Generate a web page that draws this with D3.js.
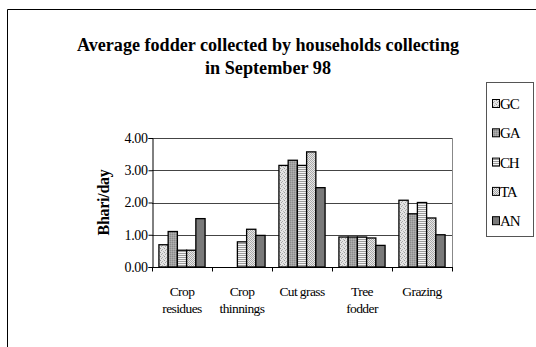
<!DOCTYPE html>
<html>
<head>
<meta charset="utf-8">
<script src="https://cdn.jsdelivr.net/npm/d3@7"></script>
<style>
  html, body { margin: 0; padding: 0; background: #fff; }
  svg { display: block; }
</style>
</head>
<body>
<script>
// Fodder categories (two-line axis labels)
const categories = ["Crop residues", "Crop thinnings", "Cut grass", "Tree fodder", "Grazing"];
const categoryLines = [["Crop", "residues"], ["Crop", "thinnings"], ["Cut grass"], ["Tree", "fodder"], ["Grazing"]];
const seriesNames = ["GC", "GA", "CH", "TA", "AN"];
// Average bhari/day per series, one value per category
const GC = [0.69, 0, 3.15, 0.93, 2.07];
const GA = [1.10, 0, 3.31, 0.93, 1.65];
const CH = [0.52, 0.78, 3.15, 0.93, 2.00];
const TA = [0.52, 1.17, 3.57, 0.90, 1.52];
const AN = [1.50, 0.98, 2.46, 0.67, 1.00];
const seriesValues = [GC, GA, CH, TA, AN];
const yTicks = [0, 1, 2, 3, 4];
const titleLines = ["Average fodder collected by households collecting", "in September 98"];
const yTitle = "Bhari/day";

const SERIF = "'Liberation Serif', 'Times New Roman', Tinos, 'DejaVu Serif', serif";
const W = 536, H = 347;
const svg = d3.select("body").append("svg").attr("width", W).attr("height", H)
  .style("font-family", SERIF);

// fill patterns for the five series
const defs = svg.append("defs");
function pattern(id, size, base, draw) {
  const p = defs.append("pattern").attr("id", id).attr("patternUnits", "userSpaceOnUse")
    .attr("width", size).attr("height", size);
  p.append("rect").attr("width", size).attr("height", size).attr("fill", base);
  draw(p);
}
function dot(p, x, yy, c) {
  p.append("rect").attr("x", x).attr("y", yy).attr("width", 1).attr("height", 1).attr("fill", c);
}
pattern("pGC", 4, "#e4e4e4", p => {
  dot(p, 0, 0, "#9a9a9a"); dot(p, 2, 1, "#b0b0b0"); dot(p, 1, 2, "#a5a5a5"); dot(p, 3, 3, "#b8b8b8");
});
pattern("pGA", 2, "#a0a0a0", p => { dot(p, 0, 0, "#8a8a8a"); dot(p, 1, 1, "#b2b2b2"); });
pattern("pCH", 2, "#f4f4f4", p => {
  p.append("rect").attr("x", 0).attr("y", 1).attr("width", 2).attr("height", 1).attr("fill", "#9a9a9a");
});
pattern("pTA", 2, "#e8e8e8", p => { dot(p, 0, 0, "#a8a8a8"); dot(p, 1, 1, "#a8a8a8"); });
pattern("pAN", 2, "#7a7a7a", p => {});
const fills = ["url(#pGC)", "url(#pGA)", "url(#pCH)", "url(#pTA)", "url(#pAN)"];

// outer chart frame
svg.append("path").attr("d", `M7.5,${H} V9.5 H${W}`).attr("fill", "none")
  .attr("stroke", "#000").attr("stroke-width", 1);

// title
const title = svg.append("text").attr("text-anchor", "middle")
  .attr("font-weight", "bold").attr("font-size", 18.5).style("font-family", SERIF);
title.append("tspan").attr("x", 268).attr("y", 51).attr("textLength", 382)
  .attr("lengthAdjust", "spacingAndGlyphs").text(titleLines[0]);
title.append("tspan").attr("x", 268).attr("y", 74).attr("textLength", 126)
  .attr("lengthAdjust", "spacingAndGlyphs").text(titleLines[1]);

// plot area
const plot = { left: 152, right: 452, top: 138, bottom: 267 };
const x0 = d3.scaleBand().domain(categories).range([plot.left, plot.right]).paddingInner(0).paddingOuter(0);
const x1 = d3.scaleBand().domain(seriesNames).range([0, x0.bandwidth()]).paddingOuter(0.75).paddingInner(0);
const y = d3.scaleLinear().domain([0, 4]).range([plot.bottom, plot.top]);

// gridlines
const g = svg.append("g");
g.selectAll("line.grid").data(yTicks.filter(t => t > 0)).join("line")
  .attr("x1", plot.left).attr("x2", plot.right)
  .attr("y1", d => Math.round(y(d)) + 0.5).attr("y2", d => Math.round(y(d)) + 0.5)
  .attr("stroke", "#444").attr("stroke-width", 1);
// right edge of plot area
g.append("line").attr("x1", plot.right + 0.5).attr("x2", plot.right + 0.5)
  .attr("y1", plot.top).attr("y2", plot.bottom).attr("stroke", "#888");

// bars
const groups = svg.append("g").selectAll("g").data(categories).join("g")
  .attr("transform", d => `translate(${x0(d)},0)`);
groups.selectAll("rect").data((c, ci) => seriesNames.map((s, si) => ({ s, si, v: seriesValues[si][ci] })))
  .join("rect")
  .filter(d => d.v > 0)
  .attr("x", d => x1(d.s))
  .attr("width", x1.bandwidth())
  .attr("y", d => y(d.v))
  .attr("height", d => y(0) - y(d.v))
  .attr("fill", d => fills[d.si])
  .attr("stroke", "#000").attr("stroke-width", 1.3);

// y axis
const yAxis = d3.axisLeft(y).tickValues(yTicks).tickSize(4).tickFormat(d3.format(".2f"));
svg.append("g").attr("transform", `translate(${plot.left + 0.5},0)`).call(yAxis)
  .attr("font-family", null).attr("font-size", null)
  .call(a => a.select(".domain").attr("stroke", "#000"))
  .call(a => a.selectAll("line").attr("stroke", "#000"))
  .call(a => a.selectAll("text").attr("font-size", 14).style("font-family", SERIF)
    .attr("fill", "#000").attr("x", -5).attr("letter-spacing", -0.4));

// x axis
const xAxisG = svg.append("g").attr("transform", `translate(0,${plot.bottom + 0.5})`);
xAxisG.append("line").attr("x1", plot.left).attr("x2", plot.right + 1).attr("stroke", "#000");
const bounds = categories.map(c => x0(c)).concat([plot.right]);
xAxisG.selectAll("line.tick").data(bounds).join("line")
  .attr("x1", d => Math.round(d) + 0.5).attr("x2", d => Math.round(d) + 0.5)
  .attr("y1", 0).attr("y2", 4).attr("stroke", "#000");
categories.forEach((c, i) => {
  const t = svg.append("text").attr("text-anchor", "middle").attr("font-size", 13.5)
    .style("font-family", SERIF).attr("letter-spacing", -0.6);
  categoryLines[i].forEach((ln, k) => {
    t.append("tspan").attr("x", x0(c) + x0.bandwidth() / 2).attr("y", 296 + k * 17).text(ln);
  });
});

// y axis title
svg.append("text").attr("transform", `translate(109,${(plot.top + plot.bottom) / 2}) rotate(-90)`)
  .attr("text-anchor", "middle").attr("font-weight", "bold").attr("font-size", 16)
  .style("font-family", SERIF).attr("letter-spacing", -0.3).text(yTitle);

// legend
const lg = svg.append("g");
lg.append("rect").attr("x", 486.5).attr("y", 82.5).attr("width", 47).attr("height", 154)
  .attr("fill", "#fff").attr("stroke", "#555");
seriesNames.forEach((s, i) => {
  const cy = 104 + i * 29.3;
  lg.append("rect").attr("x", 492.5).attr("y", cy - 4.5).attr("width", 7).attr("height", 8)
    .attr("fill", fills[i]).attr("stroke", "#000").attr("stroke-width", 1);
  lg.append("text").attr("x", 500).attr("y", cy + 5).attr("font-size", 15)
    .style("font-family", SERIF).attr("letter-spacing", -1.2).text(s);
});
</script>
</body>
</html>
